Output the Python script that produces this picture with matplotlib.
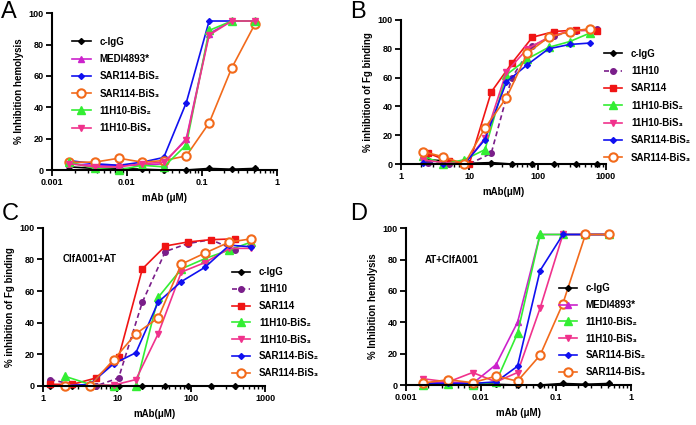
import matplotlib
matplotlib.use('Agg')
import matplotlib.pyplot as plt
from matplotlib.ticker import LogLocator, NullFormatter, FixedLocator

plt.rcParams['font.family'] = ['Liberation Sans', 'DejaVu Sans']
plt.rcParams['font.weight'] = 'bold'

# panel A / D share the same dilution series (uM)
ad_x = [0.0017, 0.0037, 0.0078, 0.016, 0.031, 0.062, 0.125, 0.25, 0.51]

a_cigg = [2, 1, 1, 0.5, 0, 0, 1, 0.5, 1]
a_medi = [4, 3, 3, 3, 4, 20, 87, 95, 95]
a_sar_bis2 = [6, 4, 3, 5, 8, 43, 95, 95, 95]
a_sar_bis3 = [5, 5, 7.5, 5, 6, 9, 30, 65, 93]
a_h10_bis2 = [5, 1, 0, 3, 2, 16, 89, 95, 95]
a_h10_bis3 = [4, 2, 2, 4, 5, 19, 86, 95, 95]

# panel B
b_x1 = [2.5, 5, 10, 21, 42, 84, 175, 360, 730]
b_x2 = [2.1, 4.2, 8.5, 17, 35, 71, 145, 295, 590]
b_cigg = [3, 2, 0.5, 1, 0, 0, 0, 0, 0]
b_h10 = [1, 0, 0, 7.5, 60, 82, 89, 92.5, 93.5]
b_sar = [7.5, 2, 0, 50, 70, 88, 92, 93, 92.5]
b_h10_bis2 = [5.5, 0, 3, 10, 62, 73, 81, 85, 91]
b_h10_bis3 = [3, 1, 0, 18, 64, 80, 88, 92.5, 93]
b_sar_bis2 = [0.5, 0, 0, 17, 57, 69, 80, 83, 84]
b_sar_bis3 = [8.6, 5, 0, 25, 46, 77, 88, 92, 94]

# panel C
c_x1 = [1.25, 2.5, 5.2, 10.5, 22, 45, 90, 185, 390]
c_x2 = [2.0, 4.3, 9, 18, 36, 74, 154, 330, 650]
c_cigg = [0, 0, 0, 0, 0, 0, 0, 0, 0]
c_h10 = [4, 1, 0, 5, 53, 85, 90, 92.5, 86]
c_sar = [1, 1, 5, 18, 74, 88.5, 91, 92.5, 93]
c_h10_bis2 = [6, 1, 0, 0, 56, 74, 80.5, 86, 91]
c_h10_bis3 = [0.5, 0.5, 0.5, 4, 33, 72, 78, 87, 87]
c_sar_bis2 = [0, 1, 14, 21, 53, 66, 75, 89, 88]
c_sar_bis3 = [0, 0, 16.6, 33, 43, 77, 84, 91, 93]

# panel D
d_cigg = [1, 1, 1, 0.5, 0, 0, 1, 0.5, 1]
d_medi = [1, 2, 1, 13, 40, 96, 96, 96, 96]
d_h10_bis2 = [0, 0.5, 0, 2, 33, 96, 96, 96, 96]
d_h10_bis3 = [4, 2, 8, 2, 8, 49, 96, 96, 96]
d_sar_bis2 = [1, 1, 1, 2, 12, 73, 96, 96, 96]
d_sar_bis3 = [1.3, 3.4, 1.5, 5.7, 2.5, 19, 52, 96, 96]

BLACK = 'black'
MAGENTA = '#CC22CC'
BLUE = '#1010F0'
ORANGE = '#F26A1B'
GREEN = '#33EE33'
PINK = '#F0328C'
PURPLE = '#7A1E8A'
RED = '#F01414'

styles = {
    'c-IgG': dict(color=BLACK, marker='D', ms=3),
    'MEDI4893*': dict(color=MAGENTA, marker='^', ms=4),
    'SAR114-BiS₂': dict(color=BLUE, marker='D', ms=3),
    'SAR114-BiS₃': dict(color=ORANGE, marker='o', ms=6, mfc='white', mew=1.5),
    '11H10-BiS₂': dict(color=GREEN, marker='^', ms=6),
    '11H10-BiS₃': dict(color=PINK, marker='v', ms=4),
    '11H10': dict(color=PURPLE, marker='o', ms=4, ls=(0, (3, 2))),
    'SAR114': dict(color=RED, marker='s', ms=4.5),
}


def draw(ax, series):
    for label, x, y in series:
        st = dict(styles[label])
        st.setdefault('ls', '-')
        ax.plot(x, y, label=label, lw=1.2, clip_on=False, **st)


def style_axes(ax, xlim, xticks, xticklabels, ylabel, xlabel):
    ax.set_xscale('log')
    ax.set_xlim(*xlim)
    ax.set_ylim(0, 100)
    ax.set_yticks([0, 20, 40, 60, 80, 100])
    ax.xaxis.set_major_locator(FixedLocator(xticks))
    ax.set_xticklabels(xticklabels)
    ax.xaxis.set_minor_locator(LogLocator(base=10, subs=range(2, 10)))
    ax.xaxis.set_minor_formatter(NullFormatter())
    for s in ('top', 'right'):
        ax.spines[s].set_visible(False)
    for s in ('left', 'bottom'):
        ax.spines[s].set_linewidth(1.5)
    ax.tick_params(which='major', length=4, width=1.3, labelsize=6.5, pad=2)
    ax.tick_params(which='minor', length=2, width=1)
    ax.set_ylabel(ylabel, fontsize=7, fontweight='bold', labelpad=3)
    ax.set_xlabel(xlabel, fontsize=7, fontweight='bold', labelpad=4)


fig = plt.figure(figsize=(6.96, 4.25), dpi=100)

axA = fig.add_axes([0.0747, 0.600, 0.323, 0.369])
axB = fig.add_axes([0.576, 0.614, 0.2945, 0.339])
axC = fig.add_axes([0.0618, 0.092, 0.319, 0.372])
axD = fig.add_axes([0.583, 0.094, 0.323, 0.369])

draw(axA, [
    ('c-IgG', ad_x, a_cigg),
    ('MEDI4893*', ad_x, a_medi),
    ('SAR114-BiS₂', ad_x, a_sar_bis2),
    ('SAR114-BiS₃', ad_x, a_sar_bis3),
    ('11H10-BiS₂', ad_x, a_h10_bis2),
    ('11H10-BiS₃', ad_x, a_h10_bis3),
])
style_axes(axA, (0.001, 1), [0.001, 0.01, 0.1, 1], ['0.001', '0.01', '0.1', '1'],
           '% Inhibition hemolysis', 'mAb (μM)')
axA.legend(loc='upper left', bbox_to_anchor=(0.09, 0.85), frameon=False, fontsize=7,
           handlelength=1.9, handletextpad=0.9, labelspacing=0.75, borderpad=0, borderaxespad=0)

draw(axB, [
    ('c-IgG', b_x1, b_cigg),
    ('11H10', b_x1, b_h10),
    ('SAR114', b_x1, b_sar),
    ('11H10-BiS₂', b_x2, b_h10_bis2),
    ('11H10-BiS₃', b_x2, b_h10_bis3),
    ('SAR114-BiS₂', b_x2, b_sar_bis2),
    ('SAR114-BiS₃', b_x2, b_sar_bis3),
])
style_axes(axB, (1, 1000), [1, 10, 100, 1000], ['1', '10', '100', '1000'],
           '% inhibition of Fg binding', 'mAb(μM)')
axB.legend(loc='upper left', bbox_to_anchor=(0.99, 0.80), frameon=False, fontsize=7,
           handlelength=1.9, handletextpad=0.9, labelspacing=0.75, borderpad=0, borderaxespad=0)

draw(axC, [
    ('c-IgG', c_x1, c_cigg),
    ('11H10', c_x1, c_h10),
    ('SAR114', c_x1, c_sar),
    ('11H10-BiS₂', c_x2, c_h10_bis2),
    ('11H10-BiS₃', c_x2, c_h10_bis3),
    ('SAR114-BiS₂', c_x2, c_sar_bis2),
    ('SAR114-BiS₃', c_x2, c_sar_bis3),
])
style_axes(axC, (1, 1000), [1, 10, 100, 1000], ['1', '10', '100', '1000'],
           '% inhibition of Fg binding', 'mAb(μM)')
axC.legend(loc='upper left', bbox_to_anchor=(0.85, 0.75), frameon=False, fontsize=7,
           handlelength=1.9, handletextpad=0.9, labelspacing=0.7, borderpad=0, borderaxespad=0)
axC.text(0.09, 0.80, 'ClfA001+AT', transform=axC.transAxes, fontsize=7,
         fontweight='bold', va='center')

draw(axD, [
    ('c-IgG', ad_x, d_cigg),
    ('MEDI4893*', ad_x, d_medi),
    ('11H10-BiS₂', ad_x, d_h10_bis2),
    ('11H10-BiS₃', ad_x, d_h10_bis3),
    ('SAR114-BiS₂', ad_x, d_sar_bis2),
    ('SAR114-BiS₃', ad_x, d_sar_bis3),
])
style_axes(axD, (0.001, 1), [0.001, 0.01, 0.1, 1], ['0.001', '0.01', '0.1', '1'],
           '% Inhibition hemolysis', 'mAb (μM)')
axD.legend(loc='upper left', bbox_to_anchor=(0.68, 0.65), frameon=False, fontsize=7,
           handlelength=1.9, handletextpad=0.9, labelspacing=0.7, borderpad=0, borderaxespad=0)
axD.text(0.085, 0.80, 'AT+ClfA001', transform=axD.transAxes, fontsize=7,
         fontweight='bold', va='center')

for x, y, s in [(0.002, 0.998, 'A'), (0.503, 0.998, 'B'), (0.002, 0.522, 'C'), (0.503, 0.522, 'D')]:
    fig.text(x, y, s, fontsize=17, fontweight='normal', va='top', ha='left')

fig.savefig('out.png', dpi=100)
